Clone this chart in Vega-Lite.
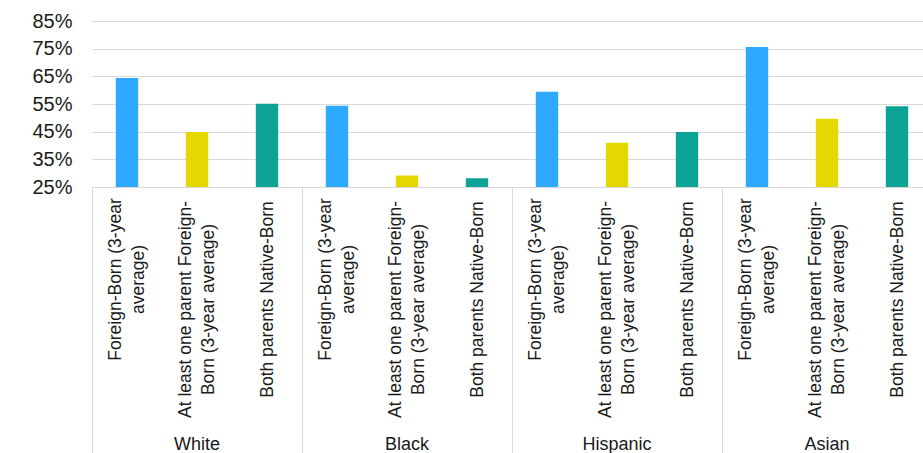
{
  "$schema": "https://vega.github.io/schema/vega-lite/v6.json",
  "width": 840,
  "height": 166,
  "autosize": {"type": "none"},
  "padding": {"left": 92, "top": 21, "right": -9, "bottom": 266},
  "background": "white",
  "config": {"view": {"stroke": null}, "font": "Liberation Sans", "axis": {"labelColor": "#1a1a1a"}},
  "data": {"values": [
    {"id": "White|Foreign-Born (3-year average)", "group": "White", "category": "Foreign-Born (3-year average)", "value": 0.644},
    {"id": "White|At least one parent Foreign-Born (3-year average)", "group": "White", "category": "At least one parent Foreign-Born (3-year average)", "value": 0.449},
    {"id": "White|Both parents Native-Born", "group": "White", "category": "Both parents Native-Born", "value": 0.551},
    {"id": "Black|Foreign-Born (3-year average)", "group": "Black", "category": "Foreign-Born (3-year average)", "value": 0.544},
    {"id": "Black|At least one parent Foreign-Born (3-year average)", "group": "Black", "category": "At least one parent Foreign-Born (3-year average)", "value": 0.292},
    {"id": "Black|Both parents Native-Born", "group": "Black", "category": "Both parents Native-Born", "value": 0.282},
    {"id": "Hispanic|Foreign-Born (3-year average)", "group": "Hispanic", "category": "Foreign-Born (3-year average)", "value": 0.594},
    {"id": "Hispanic|At least one parent Foreign-Born (3-year average)", "group": "Hispanic", "category": "At least one parent Foreign-Born (3-year average)", "value": 0.410},
    {"id": "Hispanic|Both parents Native-Born", "group": "Hispanic", "category": "Both parents Native-Born", "value": 0.449},
    {"id": "Asian|Foreign-Born (3-year average)", "group": "Asian", "category": "Foreign-Born (3-year average)", "value": 0.756},
    {"id": "Asian|At least one parent Foreign-Born (3-year average)", "group": "Asian", "category": "At least one parent Foreign-Born (3-year average)", "value": 0.497},
    {"id": "Asian|Both parents Native-Born", "group": "Asian", "category": "Both parents Native-Born", "value": 0.542}
  ]},
  "layer": [
    {
      "mark": {"type": "bar", "width": {"band": 0.32}, "clip": true},
      "encoding": {
        "x": {
          "field": "id", "type": "nominal", "sort": null,
          "scale": {"paddingInner": 0, "paddingOuter": 0},
          "axis": {
            "title": null, "orient": "bottom", "labelAngle": -90,
            "labelExpr": "!isString(datum.value) ? '' : (indexof(datum.value, 'At least') >= 0 ? ['At least one parent Foreign-', 'Born (3-year average)'] : (indexof(datum.value, 'Both parents') >= 0 ? 'Both parents Native-Born' : ['Foreign-Born (3-year', 'average)']))",
            "labelFontSize": 17.5, "labelLineHeight": 23, "labelLimit": 400,
            "labelAlign": "center", "labelBaseline": "middle",
            "labelPadding": {"condition": [
              {"test": "isString(datum.value) && indexof(datum.value, 'At least') >= 0", "value": -144},
              {"test": "isString(datum.value) && indexof(datum.value, 'Both parents') >= 0", "value": -154}
            ], "value": -174},
            "labelOffset": {"condition": {"test": "isString(datum.value) && indexof(datum.value, 'Both parents') >= 0", "value": 0}, "value": -11.5},
            "labelOverlap": false, "labelBound": false, "labelFlush": false,
            "tickBand": "extent", "tickSize": 266, "tickColor": "#d9d9d9", "tickWidth": 1,
            "tickOpacity": {"condition": {"test": "!isString(datum.value) || indexof(datum.value, '|Both parents') >= 0", "value": 1}, "value": 0},
            "domainColor": "#d9d9d9", "grid": false
          }
        },
        "y": {
          "field": "value", "type": "quantitative",
          "scale": {"domain": [0.25, 0.85], "zero": false, "nice": false},
          "axis": {
            "title": null, "values": [0.25, 0.35, 0.45, 0.55, 0.65, 0.75, 0.85], "format": ".0%",
            "labelFontSize": 20, "labelPadding": 20, "ticks": false, "domain": false,
            "gridColor": "#d9d9d9", "gridWidth": 1
          }
        },
        "color": {
          "field": "category", "type": "nominal",
          "scale": {"domain": ["Foreign-Born (3-year average)", "At least one parent Foreign-Born (3-year average)", "Both parents Native-Born"], "range": ["#2FA8FF", "#E5D800", "#0CA296"]},
          "legend": null
        }
      }
    },
    {
      "mark": {"type": "bar", "opacity": 0},
      "encoding": {
        "x": {
          "field": "id", "type": "nominal", "sort": null,
          "axis": {
            "title": null, "orient": "bottom",
            "values": ["White|At least one parent Foreign-Born (3-year average)", "Black|At least one parent Foreign-Born (3-year average)", "Hispanic|At least one parent Foreign-Born (3-year average)", "Asian|At least one parent Foreign-Born (3-year average)"],
            "labelExpr": "isString(datum.value) ? slice(datum.value, 0, indexof(datum.value, '|')) : ''",
            "labelAngle": 0, "labelFontSize": 18, "labelPadding": 248, "labelBaseline": "top",
            "ticks": false, "domain": false, "grid": false
          }
        }
      }
    }
  ],
  "resolve": {"axis": {"x": "independent"}}
}
